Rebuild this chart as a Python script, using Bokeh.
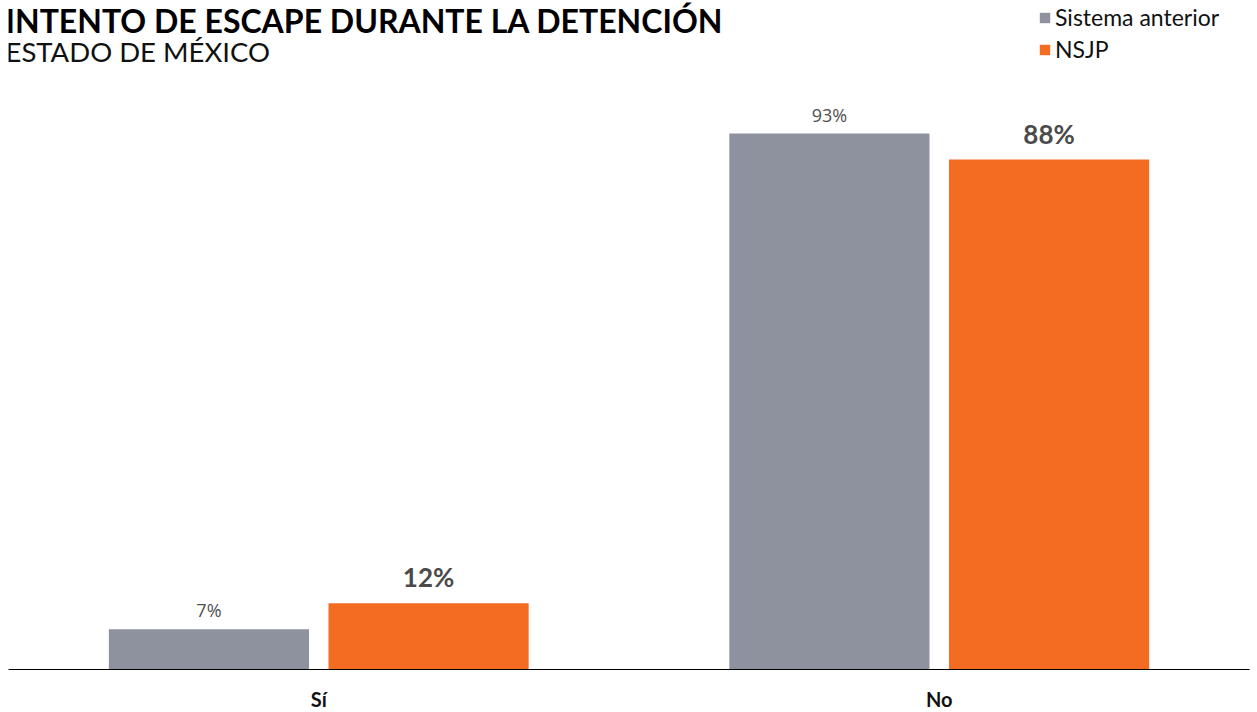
from bokeh.plotting import figure
from bokeh.models import ColumnDataSource, FactorRange, Range1d, Legend, LegendItem, Label
from bokeh.transform import dodge
from bokeh.core.properties import value
from bokeh.embed import file_html
from bokeh.resources import INLINE

categories = ["Sí", "No"]
series_names = ["Sistema anterior", "NSJP"]
anterior = [7, 93]
nsjp = [11.5, 88.5]
anterior_labels = ["7%", "93%"]
nsjp_labels = ["12%", "88%"]

title_text = "INTENTO DE ESCAPE DURANTE LA DETENCIÓN"
subtitle_text = "ESTADO DE MÉXICO"

GRAY = "#8e929e"
ORANGE = "#f36c21"

src = ColumnDataSource(dict(cat=categories, anterior=anterior, nsjp=nsjp,
                            anterior_lbl=anterior_labels, nsjp_lbl=nsjp_labels))

p = figure(x_range=FactorRange(factors=categories, range_padding=0),
           y_range=Range1d(0, 116.1), frame_width=1241, frame_height=669,
           output_backend="svg", toolbar_location=None, y_axis_location=None,
           min_border_left=8, min_border_right=8, min_border_top=0, min_border_bottom=20)

r1 = p.vbar(x=dodge("cat", -0.177, range=p.x_range), top="anterior", width=0.3226,
            source=src, fill_color=GRAY, line_color=None)
r2 = p.vbar(x=dodge("cat", 0.177, range=p.x_range), top="nsjp", width=0.3226,
            source=src, fill_color=ORANGE, line_color=None)

p.text(x=dodge("cat", -0.177, range=p.x_range), y="anterior", text="anterior_lbl", source=src,
       text_align="center", text_baseline="alphabetic", y_offset=-19,
       text_font=value("Open Sans"), text_font_size="18px", text_color="#505050")
p.text(x=dodge("cat", 0.177, range=p.x_range), y="nsjp", text="nsjp_lbl", source=src,
       text_align="center", text_baseline="alphabetic", y_offset=-26,
       text_font=value("Lato"), text_font_style="bold", text_font_size="26px", text_color="#4a4a4a")

p.xgrid.visible = False
p.ygrid.visible = False
p.outline_line_color = None
p.xaxis.axis_line_color = "black"
p.xaxis.axis_line_width = 1.2
p.xaxis.major_tick_line_color = None
p.xaxis.minor_tick_line_color = None
p.xaxis.major_label_standoff = 11
p.xaxis.major_label_text_font = "Lato"
p.xaxis.major_label_text_font_style = "bold"
p.xaxis.major_label_text_font_size = "20px"
p.xaxis.major_label_text_color = "#111111"

legend = Legend(items=[LegendItem(label=series_names[0], renderers=[r1]),
                       LegendItem(label=series_names[1], renderers=[r2])],
                location="top_right", glyph_width=13, glyph_height=13,
                label_standoff=4, label_width=191, spacing=4, padding=0, margin=3,
                label_text_font="Lato", label_text_font_size="23px",
                label_text_color="#111111",
                background_fill_alpha=0, border_line_color=None)
p.add_layout(legend)

p.add_layout(Label(x=-3, y=649, x_units="screen", y_units="screen", text=title_text,
                   text_font="Lato", text_font_style="bold", text_font_size="32px",
                   text_color="#000000", text_baseline="middle"))
p.add_layout(Label(x=-3, y=618, x_units="screen", y_units="screen", text=subtitle_text,
                   text_font="Lato", text_font_size="27.5px",
                   text_color="#111111", text_baseline="middle"))

open("out.html", "w").write(file_html(p, INLINE))
